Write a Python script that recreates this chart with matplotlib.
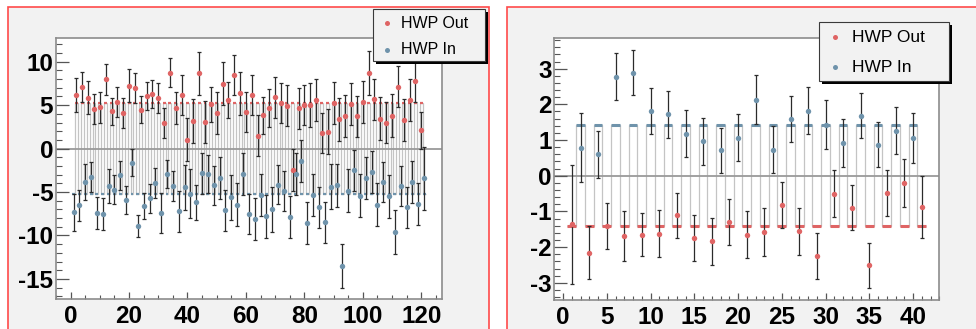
import matplotlib.pyplot as plt
from matplotlib.patches import Rectangle
from matplotlib.ticker import MultipleLocator

plt.rcParams['font.family'] = ['Liberation Sans', 'DejaVu Sans']
plt.rcParams['axes.unicode_minus'] = False

# ---- left pad: all runs, HWP Out on even bins, HWP In on odd bins
out_x_left = list(range(2, 121, 2))
out_y_left = [6.17, 7.13, 5.87, 4.56, 4.76, 7.97, 4.30, 5.37, 4.07, 7.24,
              6.97, 4.49, 6.02, 6.29, 5.79, 2.96, 8.74, 4.68, 6.17, 1.04,
              3.15, 8.66, 3.10, 5.10, 4.07, 7.47, 5.56, 8.43, 6.37, 4.22,
              6.17, 1.49, 3.84, 4.68, 5.90, 5.25, 4.94, -2.45, 4.64, 4.98,
              5.02, 5.60, 1.81, 1.96, 5.29, 3.38, 3.72, 5.10, 3.72, 5.33,
              8.70, 5.71, 3.46, 3.00, 3.80, 7.13, 3.27, 5.60, 7.78, 2.11]
out_err_left = [1.91, 1.72, 1.90, 1.76, 1.76, 1.76, 1.57, 1.68, 1.74, 1.88,
                1.72, 1.57, 1.63, 1.59, 1.74, 1.72, 1.65, 1.82, 2.30, 2.49,
                2.55, 2.49, 2.43, 2.05, 2.43, 2.47, 2.09, 2.30, 2.50, 2.30,
                2.34, 2.34, 2.14, 2.22, 2.34, 2.34, 2.34, 2.40, 2.34, 2.30,
                2.49, 2.43, 2.30, 2.58, 2.43, 2.45, 2.41, 2.43, 2.37, 2.43,
                2.58, 2.36, 2.45, 2.36, 2.43, 2.39, 2.45, 2.39, 2.45, 2.14]
in_x_left = list(range(1, 122, 2))
in_y_left = [-7.34, -6.54, -3.82, -3.29, -7.42, -7.54, -4.28, -4.74, -3.09, -5.92,
             -1.60, -8.88, -6.62, -5.73, -3.93, -7.42, -2.93, -4.28, -7.23, -4.47,
             -5.20, -6.20, -2.86, -2.93, -4.24, -3.36, -7.08, -5.62, -6.47, -2.93,
             -7.54, -8.08, -5.36, -7.80, -7.00, -4.16, -4.89, -7.88, -2.90, -1.45,
             -8.54, -5.36, -6.77, -8.46, -4.39, -4.24, -13.48, -4.85, -2.48, -5.44,
             -3.36, -2.67, -6.47, -3.82, -5.51, -9.60, -4.28, -6.77, -3.82, -6.39,
             -3.44]
in_err_left = [2.14, 1.82, 2.10, 1.74, 1.82, 1.84, 1.93, 1.67, 1.67, 1.59,
               1.59, 1.24, 1.51, 1.63, 1.72, 2.30, 1.63, 1.72, 2.34, 2.62,
               2.83, 2.03, 2.39, 2.22, 2.28, 2.39, 2.35, 2.55, 2.49, 2.39,
               2.30, 2.45, 2.43, 2.49, 2.58, 2.26, 2.34, 2.40, 2.40, 2.45,
               2.43, 2.43, 2.39, 2.36, 2.58, 2.50, 2.55, 2.49, 2.36, 2.49,
               2.45, 2.43, 2.49, 2.30, 2.49, 2.49, 2.30, 2.36, 2.43, 2.39,
               3.60]
out_mean_left = 5.26
in_mean_left = -5.26

# ---- right pad: HWP Out on odd bins, HWP In on even bins
out_x_right = list(range(1, 42, 2))
out_y_right = [-1.36, -2.16, -1.40, -1.70, -1.65, -1.62, -1.11, -1.74, -1.83, -1.29,
               -1.65, -1.58, -0.82, -1.55, -2.25, -0.50, -0.90, -2.51, -0.48, -0.20,
               -0.88]
out_err_right = [1.66, 0.74, 0.65, 0.70, 0.60, 0.66, 0.64, 0.65, 0.66, 0.65,
                 0.65, 0.67, 0.65, 0.66, 0.65, 0.66, 0.63, 0.62, 0.64, 0.67,
                 0.87]
in_x_right = list(range(2, 41, 2))
in_y_right = [0.79, 0.60, 2.78, 2.89, 1.82, 1.72, 1.18, 0.96, 0.71, 1.07,
              2.13, 0.73, 1.59, 1.82, 1.43, 0.91, 1.68, 0.87, 1.26, 1.05]
in_err_right = [0.96, 0.65, 0.66, 0.62, 0.64, 0.65, 0.66, 0.65, 0.63, 0.66,
                0.68, 0.66, 0.64, 0.66, 0.68, 0.67, 0.63, 0.63, 0.66, 0.70]
out_mean_right = -1.40
in_mean_right = 1.41

RED = '#df6464'
BLUE = '#6f93ab'
PAD_GRAY = '#f2f2f2'
W, H = 976, 329


def fx(px):
    return px / W


def fy(py):
    return 1 - py / H


fig = plt.figure(figsize=(W / 100, H / 100), dpi=100)
fig.patch.set_facecolor('white')

# the two pads with their red borders
for x0, x1 in [(8, 489), (507, 1000)]:
    fig.patches.append(Rectangle((fx(x0), fy(340)), fx(x1) - fx(x0), fy(7) - fy(340),
                                 transform=fig.transFigure, facecolor=PAD_GRAY,
                                 edgecolor='#ff4a4a', lw=1.2, zorder=0))


def draw_panel(ax, ox, oy, oerr, ix, iy, ierr, omean, imean, seg_lw):
    ax.set_zorder(2)
    bins = sorted(ox + ix)
    levels = [omean if b in ox else imean for b in bins]
    edges = [b - 0.5 for b in bins] + [bins[-1] + 0.5]
    ax.stairs(levels, edges, baseline=None, color='#c4c4c4', lw=0.9, zorder=1)
    ax.axhline(0, color='#9a9a9a', lw=1.3, zorder=1.5)
    ax.hlines([omean] * len(ox), [x - 0.5 for x in ox], [x + 0.5 for x in ox],
              colors=RED, lw=seg_lw, zorder=2)
    ax.hlines([imean] * len(ix), [x - 0.5 for x in ix], [x + 0.5 for x in ix],
              colors=BLUE, lw=seg_lw, zorder=2)
    for x, y, e, c in [(ox, oy, oerr, RED), (ix, iy, ierr, BLUE)]:
        ax.errorbar(x, y, yerr=e, fmt='none', ecolor='#2b2b2b', elinewidth=0.9,
                    capsize=1.4, capthick=0.9, zorder=3)
        ax.plot(x, y, 'o', color=c, ms=3.9, mec='none', zorder=4)
    ax.set_facecolor('white')
    for s in ax.spines.values():
        s.set_color('#8c8c8c')
        s.set_linewidth(1.2)
    ax.tick_params(which='both', direction='in', top=False, right=False, color='#555555')
    ax.tick_params(axis='y', which='major', length=9, width=0.9, pad=2)
    ax.tick_params(axis='y', which='minor', length=4.5, width=0.8)
    ax.tick_params(axis='x', which='major', length=5, width=0.9, pad=4)
    ax.tick_params(axis='x', which='minor', length=2.6, width=0.8)


def draw_legend(x0, y0, x1, y1, rows, size):
    fig.patches.append(Rectangle((fx(x0 + 3), fy(y1 + 3)), fx(x1) - fx(x0), fy(y0) - fy(y1),
                                 transform=fig.transFigure, facecolor='black',
                                 edgecolor='none', zorder=5))
    fig.patches.append(Rectangle((fx(x0), fy(y1)), fx(x1) - fx(x0), fy(y0) - fy(y1),
                                 transform=fig.transFigure, facecolor=PAD_GRAY,
                                 edgecolor='#3a3a3a', lw=0.8, zorder=6))
    for mx, tx, ty, label, c in rows:
        fig.lines.append(plt.Line2D([fx(mx)], [fy(ty)], marker='o', ms=3.6, color=c,
                                    mec='none', transform=fig.transFigure, zorder=7))
        fig.text(fx(tx), fy(ty), label, fontsize=size, va='center', ha='left',
                 color='black', zorder=7)


# ---- left pad
ax1 = fig.add_axes([fx(56), fy(299.3), fx(441.7) - fx(56), fy(38.3) - fy(299.3)])
draw_panel(ax1, out_x_left, out_y_left, out_err_left, in_x_left, in_y_left, in_err_left,
           out_mean_left, in_mean_left, 1.6)
ax1.set_xlim(-5, 127)
ax1.set_ylim(-17.35, 12.7)
ax1.set_xticks(range(0, 121, 20), [str(v) for v in range(0, 121, 20)],
               fontsize=17.5, fontweight='bold')
ax1.set_yticks(range(-15, 11, 5), [str(v) for v in range(-15, 11, 5)],
               fontsize=17.5, fontweight='bold')
ax1.xaxis.set_minor_locator(MultipleLocator(5))
ax1.yaxis.set_minor_locator(MultipleLocator(1))

# ---- right pad
ax2 = fig.add_axes([fx(554.3), fy(300), fx(939.3) - fx(554.3), fy(38.3) - fy(300)])
draw_panel(ax2, out_x_right, out_y_right, out_err_right, in_x_right, in_y_right, in_err_right,
           out_mean_right, in_mean_right, 2.2)
ax2.set_xlim(-1, 43)
ax2.set_ylim(-3.48, 3.85)
ax2.set_xticks(range(0, 41, 5), [str(v) for v in range(0, 41, 5)],
               fontsize=17.5, fontweight='bold')
ax2.set_yticks(range(-3, 4), [str(v) for v in range(-3, 4)],
               fontsize=17.5, fontweight='bold')
ax2.xaxis.set_minor_locator(MultipleLocator(1))
ax2.yaxis.set_minor_locator(MultipleLocator(0.2))

# ---- legends
draw_legend(373, 9, 485, 61, [(387, 401, 23, 'HWP Out', RED), (387, 401, 50, 'HWP In', BLUE)], 11.5)
draw_legend(819, 22, 949, 81, [(835, 852, 37, 'HWP Out', RED), (835, 852, 67, 'HWP In', BLUE)], 12.5)

fig.savefig('out.png', dpi=100, facecolor='white')
